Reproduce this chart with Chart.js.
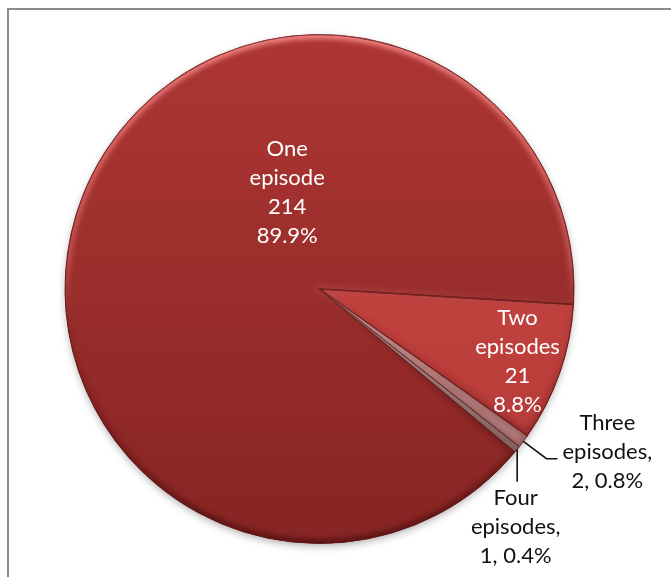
<!DOCTYPE html>
<html>
<head>
<meta charset="utf-8">
<script src="https://cdn.jsdelivr.net/npm/chart.js@4"></script>
<style>
  html, body { margin: 0; padding: 0; overflow: hidden; background: #fff; width: 671px; height: 577px; }
  #wrap { position: relative; width: 671px; height: 577px; }
  #frame { position: absolute; left: 7px; top: 8px; width: 720px; height: 620px; border: 2px solid #8a8a8a; box-sizing: border-box; }
  canvas { position: absolute; left: 0; top: 0; }
</style>
</head>
<body>
<div id="wrap">
  <div id="frame"></div>
  <canvas id="c" width="671" height="577"></canvas>
</div>
<script>
// Number of episodes per case
const categories = ['One episode', 'Two episodes', 'Three episodes', 'Four episodes'];
const counts = [214, 21, 2, 1];

// Vertical shading (top, bottom) of each slice
const sliceShades = [
  ['#ae3633', '#862524'],
  ['#d34b47', '#b03836'],
  ['#d7a0a0', '#b88080'],
  ['#c0a4a4', '#9c8080']
];

// Bevel rim strength (highlight alpha, outline colour) of each slice
const sliceRims = [
  { light: 0.8, outline: 'rgba(95,22,22,0.8)' },
  { light: 1.0, outline: 'rgba(95,22,22,0.7)' },
  { light: 0.6, outline: 'rgba(120,70,70,0.55)' },
  { light: 0.6, outline: 'rgba(110,70,70,0.55)' }
];

// Where each label sits, relative to the pie centre, in units of the radius
const labelPlacement = [
  { inside: true,  dx: -0.127, dy: -0.380 },
  { inside: true,  dx: 0.778,  dy: 0.283 },
  { inside: false, dx: 1.131,  dy: 0.639, leader: [[0.892, 0.667], [0.935, 0.667]] },
  { inside: false, dx: 0.771,  dy: 0.935, leader: [[null, 0.757]] }
];

function sliceFill(c) {
  const area = c.chart.chartArea;
  const shade = sliceShades[c.dataIndex];
  if (!area) return shade[0];
  const g = c.chart.ctx.createLinearGradient(0, area.top, 0, area.bottom);
  g.addColorStop(0, shade[0]);
  g.addColorStop(1, shade[1]);
  return g;
}

// Soft drop shadow under the pie and a rounded bevel rim on every slice
const bevel = {
  id: 'bevel',
  beforeDatasetsDraw(chart) {
    const arc = chart.getDatasetMeta(0).data[0];
    if (!arc) return;
    const p = arc.getProps(['x', 'y', 'outerRadius'], true);
    const ctx = chart.ctx;
    ctx.save();
    ctx.shadowColor = 'rgba(0,0,0,0.35)';
    ctx.shadowBlur = 8;
    ctx.shadowOffsetY = 3;
    ctx.fillStyle = '#8a2626';
    ctx.beginPath();
    ctx.arc(p.x, p.y, p.outerRadius - 1, 0, Math.PI * 2);
    ctx.fill();
    ctx.restore();
  },
  afterDatasetsDraw(chart) {
    const ctx = chart.ctx;
    chart.getDatasetMeta(0).data.forEach((arc, i) => {
      const rim = sliceRims[i];
      const p = arc.getProps(['x', 'y', 'startAngle', 'endAngle', 'outerRadius'], true);
      const path = new Path2D();
      path.moveTo(p.x, p.y);
      path.arc(p.x, p.y, p.outerRadius, p.startAngle, p.endAngle);
      path.closePath();
      ctx.save();
      ctx.clip(path);
      const g = ctx.createLinearGradient(0, p.y - p.outerRadius, 0, p.y + p.outerRadius);
      g.addColorStop(0, `rgba(255,150,150,${rim.light})`);
      g.addColorStop(0.45, `rgba(255,140,140,${rim.light * 0.4})`);
      g.addColorStop(0.6, 'rgba(60,0,0,0.08)');
      g.addColorStop(1, 'rgba(40,0,0,0.45)');
      ctx.strokeStyle = g;
      ctx.lineWidth = 9;
      ctx.lineJoin = 'round';
      ctx.filter = 'blur(2.5px)';
      ctx.stroke(path);
      ctx.filter = 'none';
      ctx.lineWidth = 1.5;
      ctx.strokeStyle = rim.outline;
      ctx.stroke(path);
      ctx.restore();
    });
  }
};

// Category, count and share labels, with leader lines for the small slices
const sliceLabels = {
  id: 'sliceLabels',
  afterDatasetsDraw(chart, args, opts) {
    const ctx = chart.ctx;
    const ds = chart.data.datasets[0];
    const total = ds.data.reduce((a, b) => a + b, 0);
    chart.getDatasetMeta(0).data.forEach((arc, i) => {
      const p = arc.getProps(['x', 'y', 'startAngle', 'endAngle', 'outerRadius'], true);
      const r = p.outerRadius;
      const place = opts.placement[i];
      const value = ds.data[i];
      const pct = (value / total * 100).toFixed(1) + '%';
      const words = chart.data.labels[i].split(' ');
      const lines = place.inside
        ? [...words, String(value), pct]
        : [words[0], words.slice(1).join(' ') + ',', value + ', ' + pct];

      ctx.save();
      if (place.leader) {
        const mid = (p.startAngle + p.endAngle) / 2;
        let lx = p.x + Math.cos(mid) * r;
        let ly = p.y + Math.sin(mid) * r;
        ctx.beginPath();
        ctx.moveTo(lx, ly);
        place.leader.forEach(([dx, dy]) => {
          lx = dx === null ? lx : p.x + dx * r;
          ly = p.y + dy * r;
          ctx.lineTo(lx, ly);
        });
        ctx.strokeStyle = '#111';
        ctx.lineWidth = 1.6;
        ctx.stroke();
      }
      ctx.font = opts.font;
      ctx.fillStyle = place.inside ? '#ffffff' : '#111111';
      ctx.textAlign = 'center';
      ctx.textBaseline = 'middle';
      const cx = p.x + place.dx * r;
      const cy = p.y + place.dy * r;
      const y0 = cy - (lines.length - 1) / 2 * opts.lineHeight;
      lines.forEach((t, k) => ctx.fillText(t, cx, y0 + k * opts.lineHeight));
      ctx.restore();
    });
  }
};

new Chart(document.getElementById('c'), {
  type: 'pie',
  data: {
    labels: categories,
    datasets: [{
      data: counts,
      backgroundColor: sliceFill,
      borderColor: '#7a2a28',
      borderWidth: 1,
      hoverOffset: 0
    }]
  },
  options: {
    responsive: false,
    devicePixelRatio: 1,
    animation: false,
    events: [],
    rotation: 129.8,
    layout: { padding: { left: 64, right: 96, top: 34, bottom: 33 } },
    plugins: {
      legend: { display: false },
      tooltip: { enabled: false },
      sliceLabels: {
        placement: labelPlacement,
        font: '22px Lato',
        lineHeight: 29
      }
    }
  },
  plugins: [bevel, sliceLabels]
});
</script>
</body>
</html>
